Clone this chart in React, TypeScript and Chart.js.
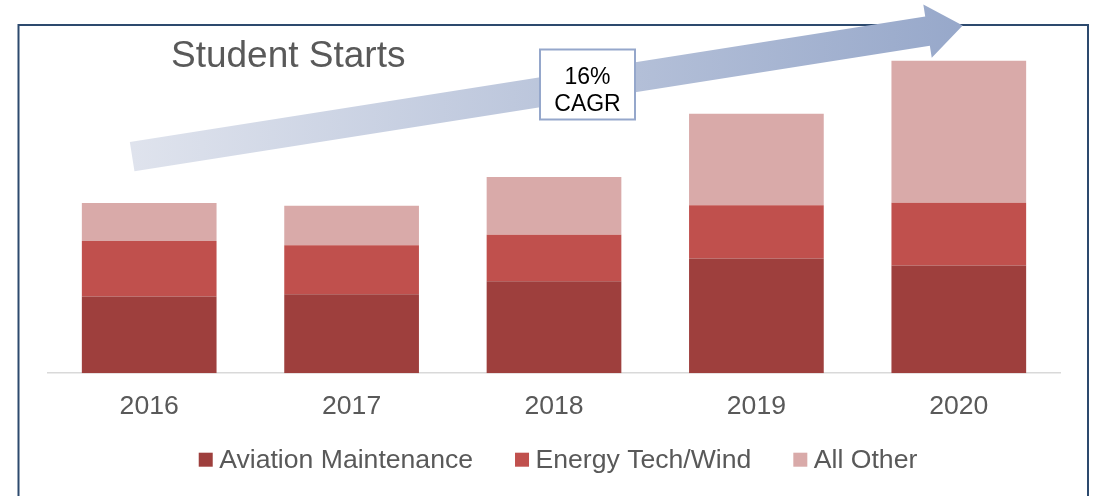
import { useEffect, useRef } from "react";
import { Chart, registerables } from "chart.js";

Chart.register(...registerables);

const years = ["2016", "2017", "2018", "2019", "2020"];
const aviation = [76.6, 79.0, 92.0, 114.6, 107.6];
const energy = [55.7, 49.0, 46.6, 53.4, 63.0];
const other = [38.0, 39.6, 57.7, 91.6, 142.0];
const seriesNames = ["Aviation Maintenance", "Energy Tech/Wind", "All Other"];
const seriesColors = ["#9e3f3d", "#c0504d", "#d9aaa9"];
const titleText = "Student Starts";
const cagrLines = ["16%", "CAGR"];

const FONT = "'Liberation Sans', Arial, sans-serif";
const TEXT_GRAY = "#595959";

const decorPlugin = {
  id: "decor",
  beforeDraw(chart: any) {
    const ctx = chart.ctx as CanvasRenderingContext2D;
    ctx.save();
    ctx.fillStyle = "#ffffff";
    ctx.fillRect(0, 0, chart.width, chart.height);
    // frame
    ctx.strokeStyle = "#2d4a6e";
    ctx.lineWidth = 2;
    ctx.strokeRect(18.5, 25, 1088 - 18.5, 520);
    ctx.restore();
  },
  afterDraw(chart: any) {
    const ctx = chart.ctx as CanvasRenderingContext2D;
    ctx.save();

    // growth arrow
    const sx = 132.15, sy = 156.7;
    const tx = 962.7, ty = 25.5;
    const dx = tx - sx, dy = ty - sy;
    const len = Math.hypot(dx, dy);
    const ux = dx / len, uy = dy / len;
    const nx = -uy, ny = ux;
    const h = 14.8, hw = 27, hl = 35.6;
    const bx = tx - ux * hl, by = ty - uy * hl;
    const grad = ctx.createLinearGradient(sx, 0, tx, 0);
    grad.addColorStop(0, "#dfe3ed");
    grad.addColorStop(1, "#97a8ca");
    ctx.fillStyle = grad;
    ctx.beginPath();
    ctx.moveTo(sx + nx * h, sy + ny * h);
    ctx.lineTo(bx + nx * h, by + ny * h);
    ctx.lineTo(bx + nx * hw, by + ny * hw);
    ctx.lineTo(tx, ty);
    ctx.lineTo(bx - nx * hw, by - ny * hw);
    ctx.lineTo(bx - nx * h, by - ny * h);
    ctx.lineTo(sx - nx * h, sy - ny * h);
    ctx.closePath();
    ctx.fill();

    // CAGR box
    ctx.fillStyle = "#ffffff";
    ctx.fillRect(540, 49.5, 95, 70);
    ctx.strokeStyle = "#95a7cb";
    ctx.lineWidth = 2;
    ctx.strokeRect(540, 49.5, 95, 70);
    ctx.fillStyle = "#000000";
    ctx.font = `23px ${FONT}`;
    ctx.textAlign = "center";
    ctx.textBaseline = "alphabetic";
    ctx.fillText(cagrLines[0], 587.5, 83.5);
    ctx.fillText(cagrLines[1], 587.5, 111);

    // title
    ctx.fillStyle = TEXT_GRAY;
    ctx.font = `37px ${FONT}`;
    ctx.textAlign = "left";
    ctx.fillText(titleText, 171, 66.7);

    // legend
    ctx.font = `26.6px ${FONT}`;
    const box = 14, gapText = 6.5, gapItem = 42;
    const widths = seriesNames.map((n) => box + gapText + ctx.measureText(n).width);
    const total = widths.reduce((a, b) => a + b, 0) + gapItem * (widths.length - 1);
    let x = 558 - total / 2;
    seriesNames.forEach((name, i) => {
      ctx.fillStyle = seriesColors[i];
      ctx.fillRect(x, 452.7, box, box);
      ctx.fillStyle = TEXT_GRAY;
      ctx.fillText(name, x + box + gapText, 467.5);
      x += widths[i] + gapItem;
    });

    ctx.restore();
  },
};

export default function App() {
  const ref = useRef<HTMLCanvasElement | null>(null);
  useEffect(() => {
    if (!ref.current) return;
    const chart = new Chart(ref.current, {
      type: "bar",
      data: {
        labels: years,
        datasets: [
          { label: seriesNames[0], data: aviation, backgroundColor: seriesColors[0] },
          { label: seriesNames[1], data: energy, backgroundColor: seriesColors[1] },
          { label: seriesNames[2], data: other, backgroundColor: seriesColors[2] },
        ],
      },
      options: {
        responsive: false,
        devicePixelRatio: 1,
        animation: false,
        layout: { padding: { left: 48, right: 34, top: 33.3, bottom: 55.5 } },
        datasets: { bar: { barPercentage: 0.6655, categoryPercentage: 1 } },
        plugins: { legend: { display: false }, tooltip: { enabled: false }, title: { display: false } },
        scales: {
          x: {
            stacked: true,
            grid: { display: false, drawTicks: false, tickLength: 0 },
            border: { display: true, color: "#d9d9d9", width: 1.5 },
            ticks: { color: TEXT_GRAY, font: { family: FONT, size: 26.6 }, padding: 17.7 },
          },
          y: {
            stacked: true,
            display: false,
            min: 0,
            max: 340,
          },
        },
      },
      plugins: [decorPlugin],
    });
    return () => chart.destroy();
  }, []);
  return (
    <div style={{ position: "fixed", left: 0, top: 0, width: 1094, height: 496 }}>
      <canvas ref={ref} width={1094} height={496} />
    </div>
  );
}
